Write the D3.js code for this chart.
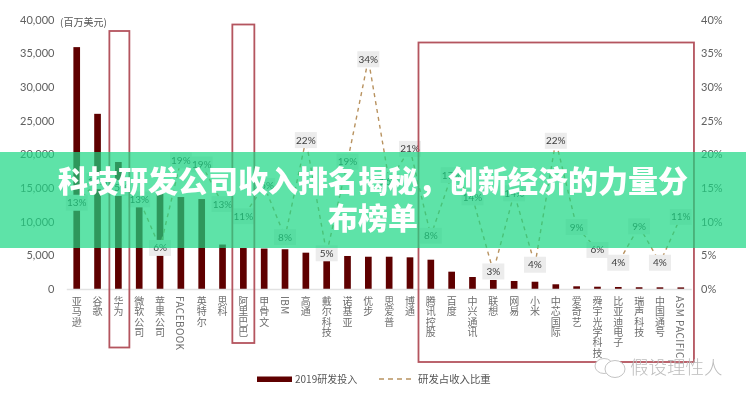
<!DOCTYPE html>
<html>
<head>
<meta charset="utf-8">
<script src="https://cdn.jsdelivr.net/npm/d3@7/dist/d3.min.js"></script>
<style>
  html, body { margin: 0; padding: 0; background: #fff; }
  svg { display: block; }
  text { font-family: "Noto Sans CJK SC", "Noto Sans", sans-serif; }
  .num text, text.num { font-family: Lato, "Open Sans", sans-serif; }
</style>
</head>
<body>
<div id="chart"></div>
<script>
// Chart values
var companies = ["亚马逊", "谷歌", "华为", "微软公司", "苹果公司", "FACEBOOK", "英特尔", "思科", "阿里巴巴", "甲骨文",
  "IBM", "高通", "戴尔科技", "诺基亚", "优步", "思爱普", "博通", "腾讯控股", "百度", "中兴通讯",
  "联想", "网易", "小米", "中芯国际", "爱奇艺", "舜宇光学科技", "比亚迪电子", "瑞声科技", "中国通号", "ASM PACIFIC"];
var rdSpend = [35900, 26000, 18850, 12200, 14200, 13650, 13350, 6600, 6080, 6000,
  5900, 5390, 4200, 4900, 4790, 4790, 4700, 4350, 2570, 1780,
  1340, 1190, 1080, 700, 400, 340, 300, 260, 250, 240];
var rdShare = [12.8, 16, 15, 13.3, 6.1, 19.1, 18.5, 12.6, 10.8, 15.3,
  7.7, 22.1, 5.3, 18.9, 34.1, 16, 20.8, 7.9, 16.9, 13.6,
  2.6, 14.2, 3.6, 22, 9.2, 5.8, 3.9, 9.3, 3.9, 10.7];
var spendTicks = [0, 5000, 10000, 15000, 20000, 25000, 30000, 35000, 40000];
var shareTicks = [0, 5, 10, 15, 20, 25, 30, 35, 40];
// \uFF0C is the full-width comma of the title
var titleLines = ["科技研发公司收入排名揭秘\uFF0C创新经济的力量分", "布榜单"];

var width = 746, height = 400;
var barColor = "#5e0205", boxColor = "#b4545e", lineColor = "#b8925f", tickColor = "#606060";

var svg = d3.select("#chart").append("svg")
  .attr("width", width)
  .attr("height", height);

// The source picture is a soft, upscaled screenshot
var defs = svg.append("defs");
defs.append("filter").attr("id", "soft").append("feGaussianBlur").attr("stdDeviation", 0.45);
defs.append("filter").attr("id", "softTitle").append("feGaussianBlur").attr("stdDeviation", 0.3);

var chart = svg.append("g").attr("filter", "url(#soft)");

// Scales
var x = d3.scaleBand()
  .domain(companies)
  .range([66.3, 691.2])
  .paddingInner(0.68)
  .paddingOuter(0.34);
var ySpend = d3.scaleLinear().domain([0, 40000]).range([289, 19.5]);
var yShare = d3.scaleLinear().domain([0, 40]).range([289, 19.5]);
function cx(name) { return x(name) + x.bandwidth() / 2; }

// Left axis
var leftAxis = chart.append("g")
  .attr("class", "num")
  .attr("transform", "translate(54.5,0)")
  .call(d3.axisLeft(ySpend).tickValues(spendTicks).tickSize(0).tickPadding(0).tickFormat(d3.format(",")));
leftAxis.select(".domain").remove();
leftAxis.selectAll("text").attr("fill", tickColor).style("font-size", "11px");

// Right axis
var rightAxis = chart.append("g")
  .attr("class", "num")
  .attr("transform", "translate(701,0)")
  .call(d3.axisRight(yShare).tickValues(shareTicks).tickSize(0).tickPadding(0).tickFormat(function(d) { return d + "%"; }));
rightAxis.select(".domain").remove();
rightAxis.selectAll("text").attr("fill", tickColor).style("font-size", "11px");

// Bars
chart.selectAll(".bar")
  .data(companies)
  .enter().append("rect")
  .attr("class", "bar")
  .attr("x", function(d) { return x(d); })
  .attr("width", x.bandwidth())
  .attr("y", function(d, i) { return ySpend(rdSpend[i]); })
  .attr("height", function(d, i) { return ySpend(0) - ySpend(rdSpend[i]); })
  .attr("fill", barColor);

// Bottom axis, company names run top to bottom
var bottomAxis = chart.append("g")
  .attr("transform", "translate(0,289)")
  .call(d3.axisBottom(x).tickSize(0).tickPadding(0));
bottomAxis.select(".domain").attr("stroke", "#e2e2e2").attr("stroke-width", 1.5);
bottomAxis.selectAll("text")
  .attr("dy", null)
  .attr("y", 7)
  .attr("x", 0)
  .attr("fill", "#6e6e6e")
  .style("writing-mode", "vertical-rl")
  .style("text-anchor", "start")
  .style("font-size", "10px")
  .style("letter-spacing", "0.4px");

// Share line
var line = d3.line()
  .x(function(d) { return cx(d); })
  .y(function(d, i) { return yShare(rdShare[i]); });
chart.append("path")
  .datum(companies)
  .attr("d", line)
  .attr("fill", "none")
  .attr("stroke", lineColor)
  .attr("stroke-width", 1.4)
  .attr("stroke-dasharray", "4,4");

// Share labels sit on grey boxes that cover bars and line
var labels = chart.selectAll(".share-label")
  .data(companies)
  .enter().append("g")
  .attr("class", "share-label")
  .attr("transform", function(d, i) { return "translate(" + cx(d) + "," + yShare(rdShare[i]) + ")"; });
labels.append("rect")
  .attr("x", -11)
  .attr("y", -8)
  .attr("width", 22)
  .attr("height", 16)
  .attr("fill", "#ececec");
labels.append("text")
  .attr("class", "num")
  .attr("text-anchor", "middle")
  .attr("dy", "0.35em")
  .attr("fill", "#3c3c3c")
  .style("font-size", "10px")
  .text(function(d, i) { return Math.round(rdShare[i]) + "%"; });

// Red highlight boxes
function highlight(left, right, top, bottom) {
  chart.append("rect")
    .attr("x", left)
    .attr("y", top)
    .attr("width", right - left)
    .attr("height", bottom - top)
    .attr("fill", "none")
    .attr("stroke", boxColor)
    .attr("stroke-width", 1.8);
}
highlight(cx("华为") - 9, cx("华为") + 11, 31, 347.5);
highlight(cx("阿里巴巴") - 11, cx("阿里巴巴") + 11, 24.5, 343);
highlight(x("腾讯控股") - 9, x("ASM PACIFIC") + 16.5, 42.5, 362);

// Unit note
chart.append("text")
  .attr("x", 60)
  .attr("y", 26)
  .attr("fill", "#555")
  .style("font-size", "10px")
  .text("(百万美元)");

// Legend
chart.append("rect")
  .attr("x", 257).attr("y", 376.5)
  .attr("width", 35).attr("height", 5.5)
  .attr("fill", barColor);
chart.append("text")
  .attr("x", 295).attr("y", 383)
  .attr("fill", "#555")
  .style("font-size", "10px")
  .text("2019研发投入");
chart.append("line")
  .attr("x1", 379).attr("x2", 413)
  .attr("y1", 379).attr("y2", 379)
  .attr("stroke", lineColor)
  .attr("stroke-width", 1.6)
  .attr("stroke-dasharray", "5,4");
chart.append("text")
  .attr("x", 418).attr("y", 383)
  .attr("fill", "#555")
  .style("font-size", "10.4px")
  .text("研发占收入比重");

// Watermark
var mark = svg.append("g").attr("filter", "url(#soft)");
mark.append("ellipse")
  .attr("cx", 604).attr("cy", 366).attr("rx", 9).attr("ry", 7.5)
  .attr("fill", "#fff").attr("stroke", "#c4c4c4").attr("stroke-width", 1);
mark.append("ellipse")
  .attr("cx", 615).attr("cy", 369).attr("rx", 10).attr("ry", 8.5)
  .attr("fill", "#fff").attr("stroke", "#c4c4c4").attr("stroke-width", 1);
mark.append("text")
  .attr("x", 630).attr("y", 374)
  .attr("fill", "#bdbdbd")
  .style("font-size", "18.5px")
  .style("font-weight", 300)
  .text("假设理性人");

// Banner over the chart
svg.append("rect")
  .attr("x", 0).attr("y", 152)
  .attr("width", width).attr("height", 96)
  .attr("fill", "rgb(26,215,131)")
  .attr("fill-opacity", 0.7);

svg.append("g")
  .attr("filter", "url(#softTitle)")
  .selectAll("text")
  .data(titleLines)
  .enter().append("text")
  .attr("x", width / 2)
  .attr("y", function(d, i) { return 192 + i * 37; })
  .attr("text-anchor", "middle")
  .attr("fill", "#fff")
  .style("font-size", "30px")
  .style("font-weight", 900)
  .text(function(d) { return d; });
</script>
</body>
</html>
